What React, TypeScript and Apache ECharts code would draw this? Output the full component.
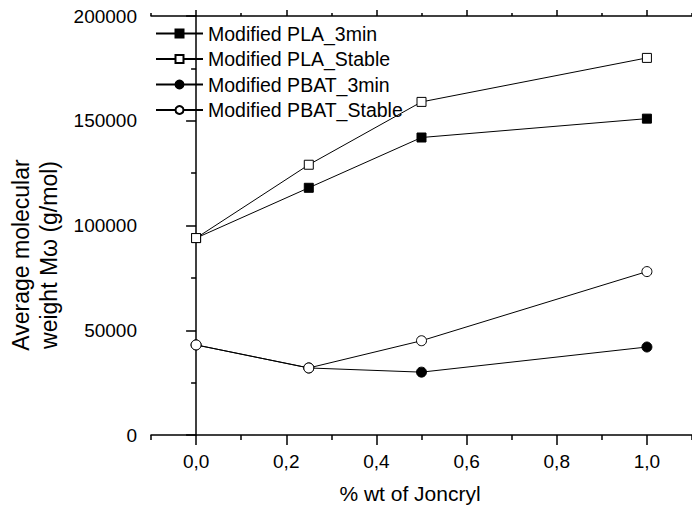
import React, { useEffect, useRef } from "react";
import * as echarts from "echarts";

const xValues = [0, 0.25, 0.5, 1.0];
const plaMin3 = [94000, 118000, 142000, 151000];
const plaStable = [94000, 129000, 159000, 180000];
const pbatMin3 = [43000, 32000, 30000, 42000];
const pbatStable = [43000, 32000, 45000, 78000];

const seriesNames = [
  "Modified PLA_3min",
  "Modified PLA_Stable",
  "Modified PBAT_3min",
  "Modified PBAT_Stable",
];

const xMajorTicks = [0, 0.2, 0.4, 0.6, 0.8, 1.0];
const xMinorTicks = [-0.1, 0.1, 0.3, 0.5, 0.7, 0.9, 1.1];
const xAxisTitle = "% wt of Joncryl";
const yAxisTitle = "Average molecular\nweight Mω (g/mol)";

const FONT = '"Liberation Sans", Arial, sans-serif';

function pairs(ys: number[]) {
  return xValues.map((x, i) => [x, ys[i]]);
}

export default function App() {
  const ref = useRef<HTMLDivElement>(null);
  useEffect(() => {
    if (!ref.current) return;
    const chart = echarts.init(ref.current, null, { renderer: "svg" });
    const axisLine = { show: true, lineStyle: { color: "#000", width: 1.5 } };
    const baseX = {
      type: "value" as const,
      min: -0.1,
      max: 1.1,
      interval: 0.1,
      splitLine: { show: false },
      axisLine,
    };
    const mkSeries = (name: string, data: number[], symbol: string, size: number, filled: boolean) => ({
      name,
      type: "line",
      data: pairs(data),
      symbol,
      symbolSize: size,
      showAllSymbol: true,
      lineStyle: { color: "#000", width: 1 },
      itemStyle: { color: filled ? "#000" : "#fff", borderColor: "#000", borderWidth: 1 },
      emphasis: { disabled: true },
    });
    chart.setOption({
      animation: false,
      backgroundColor: "#fff",
      textStyle: { fontFamily: FONT },
      grid: { left: 151, top: 16, bottom: 73, right: -3, containLabel: false },
      legend: {
        orient: "vertical",
        left: 155,
        top: 23.5,
        padding: 0,
        itemWidth: 47,
        itemHeight: 10,
        itemGap: 5.5,
        textStyle: { fontSize: 19.5, color: "#000", fontFamily: FONT, lineHeight: 19.5 },
        data: seriesNames,
      },
      xAxis: [
        {
          ...baseX,
          position: "bottom",
          axisTick: { show: true, length: 10, customValues: xMajorTicks, lineStyle: { color: "#000", width: 1.5 } },
          axisLabel: {
            show: true,
            customValues: xMajorTicks,
            margin: 17,
            fontSize: 19,
            color: "#000",
            fontFamily: FONT,
            formatter: (v: number) => v.toFixed(1).replace(".", ","),
          },
        },
        {
          ...baseX,
          position: "bottom",
          axisLine: { show: false },
          axisTick: { show: true, length: 5, customValues: xMinorTicks, lineStyle: { color: "#000", width: 1.5 } },
          axisLabel: { show: false },
        },
        {
          ...baseX,
          position: "top",
          axisTick: { show: true, length: 6, customValues: xMajorTicks, lineStyle: { color: "#000", width: 1.5 } },
          axisLabel: { show: false },
        },
        {
          ...baseX,
          position: "top",
          axisLine: { show: false },
          axisTick: { show: true, length: 3, customValues: xMinorTicks, lineStyle: { color: "#000", width: 1.5 } },
          axisLabel: { show: false },
        },
      ],
      yAxis: [
        {
          type: "value",
          min: 0,
          max: 200000,
          interval: 50000,
          position: "left",
          splitLine: { show: false },
          axisLine,
          axisTick: { show: true, length: 10, lineStyle: { color: "#000", width: 1.5 } },
          minorTick: { show: true, splitNumber: 2, length: 5, lineStyle: { color: "#000", width: 1.5 } },
          minorSplitLine: { show: false },
          axisLabel: {
            margin: 14,
            fontSize: 19,
            color: "#000",
            fontFamily: FONT,
            formatter: (v: number) => String(v),
          },
        },
      ],
      graphic: [
        {
          type: "text",
          x: 410,
          y: 493,
          style: {
            text: xAxisTitle,
            fontSize: 21,
            fontFamily: FONT,
            fill: "#000",
            align: "center",
            verticalAlign: "middle",
          },
        },
        {
          type: "text",
          x: 35,
          y: 255,
          rotation: Math.PI / 2,
          style: {
            text: yAxisTitle,
            fontSize: 23,
            lineHeight: 28,
            fontFamily: FONT,
            fill: "#000",
            align: "center",
            verticalAlign: "middle",
          },
        },
      ],
      series: [
        mkSeries(seriesNames[0], plaMin3, "rect", 9, true),
        mkSeries(seriesNames[1], plaStable, "rect", 9, false),
        mkSeries(seriesNames[2], pbatMin3, "circle", 10, true),
        mkSeries(seriesNames[3], pbatStable, "circle", 10, false),
      ],
    });
    return () => chart.dispose();
  }, []);
  return (
    <div
      ref={ref}
      style={{ position: "fixed", left: 0, top: 0, width: 692, height: 508, background: "#fff" }}
    />
  );
}
